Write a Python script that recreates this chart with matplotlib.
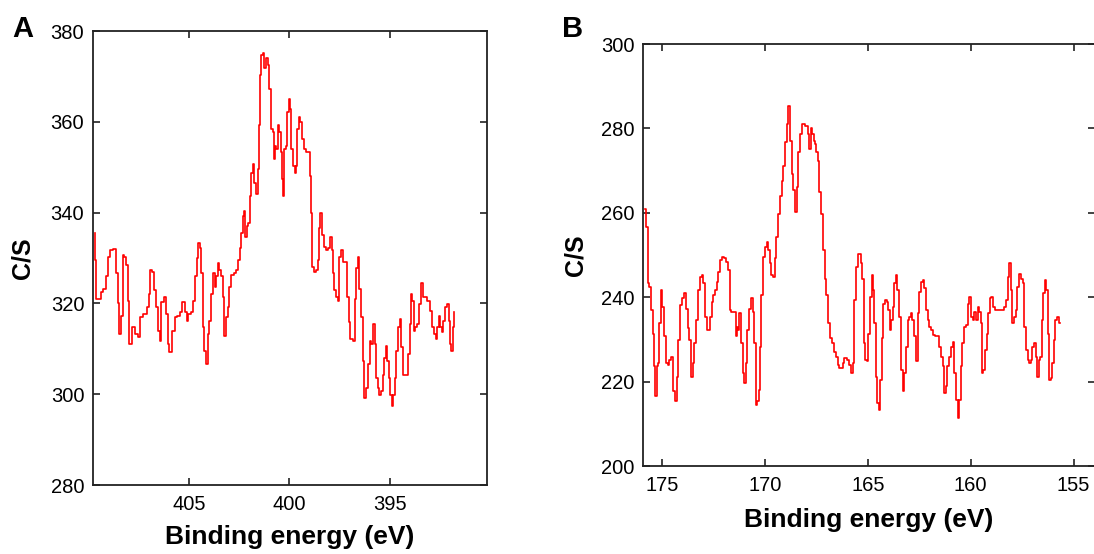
import matplotlib.pyplot as plt

plt.rcParams['font.family'] = ['Liberation Sans', 'DejaVu Sans']

# Panel A: spectrum around 400 eV
a_energy = [409.70, 409.63, 409.58, 409.42, 409.33, 409.20, 409.08, 409.00, 408.87, 408.67,
            408.59, 408.50, 408.42, 408.34, 408.25, 408.17, 408.09, 408.00, 407.92, 407.76,
            407.59, 407.47, 407.37, 407.18, 407.04, 406.96, 406.88, 406.79, 406.68, 406.56,
            406.48, 406.43, 406.31, 406.21, 406.10, 406.01, 405.93, 405.76, 405.65, 405.51,
            405.38, 405.27, 405.15, 405.07, 404.98, 404.85, 404.72, 404.65, 404.57, 404.48,
            404.42, 404.35, 404.27, 404.19, 404.09, 404.02, 403.94, 403.82, 403.75, 403.69,
            403.60, 403.52, 403.44, 403.36, 403.27, 403.19, 403.11, 403.02, 402.94, 402.82,
            402.69, 402.58, 402.49, 402.43, 402.36, 402.28, 402.23, 402.16, 402.08, 401.99,
            401.94, 401.86, 401.78, 401.69, 401.61, 401.54, 401.48, 401.43, 401.36, 401.28,
            401.20, 401.11, 401.03, 400.95, 400.83,
            400.78, 400.75, 400.70, 400.61, 400.53, 400.45, 400.40, 400.33, 400.28, 400.20,
            400.12, 400.07, 400.00, 399.93, 399.87, 399.78, 399.70, 399.62, 399.57, 399.50,
            399.42, 399.34, 399.24, 399.12, 399.00, 398.94, 398.87, 398.82, 398.70, 398.62,
            398.54, 398.49, 398.42, 398.34, 398.24, 398.12, 398.01, 397.92, 397.87, 397.79,
            397.71, 397.62, 397.54, 397.46, 397.38, 397.29, 397.18, 397.09, 397.01, 396.91,
            396.79, 396.71, 396.63, 396.54, 396.48, 396.38, 396.30, 396.21, 396.13, 396.05,
            395.96, 395.88, 395.80, 395.71, 395.63, 395.55, 395.47, 395.38, 395.30, 395.22,
            395.17, 395.08, 395.02, 394.93, 394.85, 394.77, 394.69, 394.64, 394.55, 394.47,
            394.39, 394.30, 394.14, 394.05, 393.97, 393.89, 393.84, 393.77, 393.69, 393.56,
            393.47, 393.39, 393.31, 393.19, 393.06, 392.94, 392.86, 392.76, 392.67, 392.59,
            392.53, 392.44, 392.36, 392.28, 392.19, 392.11, 392.03, 391.96, 391.89, 391.84, 391.78]
a_counts = [335.5, 329.5, 321, 321, 322.5, 323.2, 326, 330.3, 331.8, 332,
            326.6, 320, 313.2, 317.3, 330.6, 330.3, 328.4, 320.6, 311, 314.7,
            313.2, 312.5, 317, 317.7, 319.2, 322.1, 327.3, 327, 322.9, 319.2,
            314, 311.8, 320.3, 321.4, 317.7, 311, 309.2, 314, 317, 317.3,
            318.1, 320.3, 318.1, 316.2, 317.7, 318.1, 320.6, 326, 329.9, 333.2,
            332.1, 326.6, 314.7, 309.5, 306.6, 313.2, 316.2, 322.1, 326.6, 323.6,
            326, 328.8, 327.3, 326, 321.4, 312.9, 317, 319.2, 323.6, 326.2,
            326.6, 327.3, 329.5, 332.1, 335.5, 339.2, 340.3, 334.7, 337, 337.7,
            343.6, 348.8, 350.7, 346.6, 344, 349.5, 359.2, 370.3, 374.7, 375.1,
            371.8, 374, 372.5, 367.3, 358.4,
            357.7, 351.8, 354.7, 354, 359.2, 357.7, 353.3, 347.3, 343.6, 354,
            354.7, 362.1, 365.1, 362.9, 354, 350.3, 348.8, 350.3, 358.4, 361,
            359.9, 356.2, 354, 353.3, 353.3, 348, 339.9, 328.1, 326.9, 327.3,
            329.5, 336.6, 339.9, 335.1, 332.5, 331.8, 332.1, 334.7, 331.8, 326.6,
            322.9, 321.4, 320.6, 330.3, 331.8, 329.2, 329.2, 321.4, 315.8, 312.1,
            311.8, 321, 327.7, 330.3, 323.2, 317, 307.3, 299.2, 301.4, 306.6,
            311.8, 311, 315.5, 311, 303.6, 301.4, 299.9, 300.7, 304.3, 308,
            310.6, 307.3, 303.6, 299.9, 297.3, 299.9, 303.6, 309.5, 314.7, 316.6,
            310.3, 304.3, 304.3, 308.8, 315.5, 322.1, 320.6, 314, 314.7, 315.5,
            319.9, 324.4, 321.4, 321.4, 320.6, 318.4, 314.7, 313.2, 312.1, 314.7,
            317.3, 314.7, 313.6, 316.2, 319.2, 319.9, 316.2, 311, 309.5, 314.7, 318.1]

# Panel B: spectrum around 168 eV
b_energy = [175.83, 175.75, 175.66, 175.58, 175.50, 175.42, 175.37, 175.31, 175.23, 175.15,
            175.10, 175.02, 174.94, 174.85, 174.77, 174.69, 174.61, 174.53, 174.45, 174.34,
            174.25, 174.17, 174.09, 173.96, 173.88, 173.80, 173.72, 173.64, 173.56, 173.48,
            173.40, 173.32, 173.20, 173.12, 173.04, 172.96, 172.88, 172.80, 172.72, 172.63,
            172.55, 172.47, 172.39, 172.31, 172.23, 172.15, 172.05, 171.94, 171.83, 171.74,
            171.70, 171.57, 171.45, 171.40, 171.34, 171.27, 171.21, 171.13, 171.05, 170.97,
            170.89, 170.81, 170.72, 170.64, 170.56, 170.48, 170.43, 170.35, 170.27, 170.21,
            170.13, 170.04, 169.96, 169.88, 169.80, 169.72, 169.65, 169.56, 169.48, 169.40,
            169.32, 169.23, 169.15, 169.07, 168.99, 168.91, 168.83,
            168.73, 168.67, 168.57, 168.49, 168.41, 168.34, 168.26, 168.13, 167.97, 167.89,
            167.81, 167.73, 167.65, 167.60, 167.53, 167.47, 167.40, 167.32, 167.24, 167.13,
            167.05, 166.97, 166.89, 166.80, 166.67, 166.59, 166.51, 166.43, 166.35, 166.27,
            166.19, 166.11, 166.03, 165.95, 165.87, 165.78, 165.70, 165.62, 165.54, 165.46,
            165.38, 165.30, 165.22, 165.17, 165.09, 165.02, 164.94, 164.84, 164.78, 164.72,
            164.65, 164.59, 164.52, 164.44, 164.36, 164.29, 164.21, 164.13, 164.05, 163.97,
            163.91, 163.84, 163.76, 163.68, 163.60, 163.52, 163.44, 163.35, 163.27, 163.19,
            163.11, 163.03, 162.95, 162.87, 162.79, 162.71, 162.63, 162.54, 162.46, 162.38,
            162.30, 162.22, 162.14, 162.06, 161.98, 161.90, 161.78,
            161.69, 161.57, 161.49, 161.41, 161.33, 161.27, 161.17, 161.09, 161.01, 160.93,
            160.84, 160.76, 160.68, 160.60, 160.52, 160.44, 160.36, 160.28, 160.16, 160.10,
            160.03, 159.95, 159.87, 159.79, 159.71, 159.63, 159.55, 159.47, 159.42, 159.34,
            159.27, 159.19, 159.11, 159.03, 158.95, 158.87, 158.74, 158.58, 158.45, 158.33,
            158.25, 158.17, 158.09, 158.03, 157.93, 157.85, 157.77, 157.69, 157.61, 157.52,
            157.44, 157.36, 157.28, 157.20, 157.12, 157.04, 156.96, 156.88, 156.79, 156.73,
            156.67, 156.59, 156.50, 156.44, 156.36, 156.29, 156.23, 156.15, 156.07, 155.99,
            155.92, 155.86, 155.78, 155.66]
b_counts = [261.0, 256.6, 243.3, 242.5, 237, 231.4, 223.6, 216.5, 223.6, 224.4,
            233.8, 241.7, 237.7, 230.7, 224.4, 224, 225.2, 225.9, 217.7, 215.3,
            221.2, 229.9, 238.1, 239.7, 240.9, 237.3, 232.6, 229.9, 221.2, 224.4,
            229.1, 234.6, 241.7, 244.8, 245.2, 243.3, 235.4, 232.2, 232.2, 235.4,
            238.9, 240.5, 241.7, 243.6, 246, 248.8, 249.6, 249.2, 248.4, 246.4,
            237, 236.6, 236.6, 230.7, 233, 232.2, 236.2, 229.1, 222, 219.6,
            224.4, 232.2, 237.3, 239.7, 236.6, 229.1, 214.5, 215.3, 218.1, 228.3,
            240.5, 249.6, 251.9, 253.1, 251.1, 248, 245.2, 244.8, 249.2, 254.3,
            259.8, 264.1, 267.6, 271.2, 276.7, 281, 285.4,
            277.1, 269.2, 265.3, 260.2, 266.1, 274.3, 278.7, 281, 280.6, 278.7,
            275.1, 280.2, 278.7, 277.1, 276.3, 274.3, 272.4, 264.9, 259.8, 251.1,
            244.4, 240.5, 233.8, 230.3, 229.1, 227.1, 225.9, 224, 223.2, 223.2,
            224.4, 225.6, 225.6, 225.2, 224, 222, 224.4, 239.3, 247.2, 250.3,
            250.3, 248, 244.4, 229.1, 225.2, 224.8, 231.4, 240.1, 245.2, 241.7,
            233.8, 221.2, 214.9, 213.3, 220.4, 230.3, 238.5, 239.3, 238.9, 237,
            232.2, 234.6, 237.7, 243.3, 245.2, 241.7, 235.4, 222.8, 217.7, 222,
            228.3, 234.6, 235.4, 236.2, 234.6, 230.7, 224.8, 236.2, 241.3, 243.6,
            244.1, 242.1, 237, 234.6, 233, 232.2, 231.1,
            230.7, 230.7, 228.3, 225.9, 223.6, 217.3, 218.9, 223.6, 225.9, 228.3,
            229.5, 222, 215.7, 211.4, 215.7, 223.6, 229.1, 233, 233.4, 238.5,
            240.1, 235.4, 234.6, 236.6, 234.6, 237.7, 236.6, 233.8, 222, 222.8,
            227.5, 231.4, 236.2, 239.7, 240.1, 237.7, 236.9, 236.9, 236.9, 237.7,
            239.3, 244.8, 248, 241.7, 233.8, 235.4, 236.9, 242.5, 245.6, 244.4,
            243.3, 233, 227.5, 225.2, 224.4, 225.2, 228.3, 229.1, 225.9, 221.2,
            225.2, 225.9, 234.6, 240.9, 244.1, 241.7, 231.4, 220.4, 220.8, 224.4,
            229.9, 234.6, 235.4, 233.8]

a_xticks = [405, 400, 395]
a_yticks = [280, 300, 320, 340, 360, 380]
b_xticks = [175, 170, 165, 160, 155]
b_yticks = [200, 220, 240, 260, 280, 300]

fig = plt.figure(figsize=(10.94, 5.54), dpi=100)
ax_a = fig.add_axes([0.0846, 0.1245, 0.3606, 0.8195])
ax_b = fig.add_axes([0.5875, 0.1588, 0.4136, 0.7617])


def style_axes(ax, xlim, ylim, xticks, yticks):
    ax.set_xlim(*xlim)
    ax.set_ylim(*ylim)
    ax.set_xticks(xticks)
    ax.set_yticks(yticks)
    ax.tick_params(direction='in', length=5, width=1.2, labelsize=14.5,
                   top=True, right=True, color='#222222')
    ax.tick_params(axis='y', pad=6)
    ax.tick_params(axis='x', pad=7)
    for sp in ax.spines.values():
        sp.set_linewidth(1.3)
        sp.set_color('#222222')
    ax.set_xlabel('Binding energy (eV)', fontsize=19, fontweight='bold')
    ax.set_ylabel('C/S', fontsize=18, fontweight='bold')


ax_a.plot(a_energy, a_counts, color='red', lw=1.2, drawstyle='steps-mid')
style_axes(ax_a, (409.8, 390.15), (280, 380), a_xticks, a_yticks)
ax_a.xaxis.set_label_coords(0.5, -0.088)
ax_a.yaxis.set_label_coords(-0.147, 0.5)

ax_b.plot(b_energy, b_counts, color='red', lw=1.2, drawstyle='steps-mid')
style_axes(ax_b, (175.94, 153.95), (200, 300), b_xticks, b_yticks)
ax_b.xaxis.set_label_coords(0.5, -0.1)
ax_b.yaxis.set_label_coords(-0.122, 0.5)

fig.text(12 / 1094, 1 - 15 / 554, 'A', fontsize=21, fontweight='bold', ha='left', va='top')
fig.text(562 / 1094, 1 - 15 / 554, 'B', fontsize=21, fontweight='bold', ha='left', va='top')

fig.savefig('out.png', dpi=100)
